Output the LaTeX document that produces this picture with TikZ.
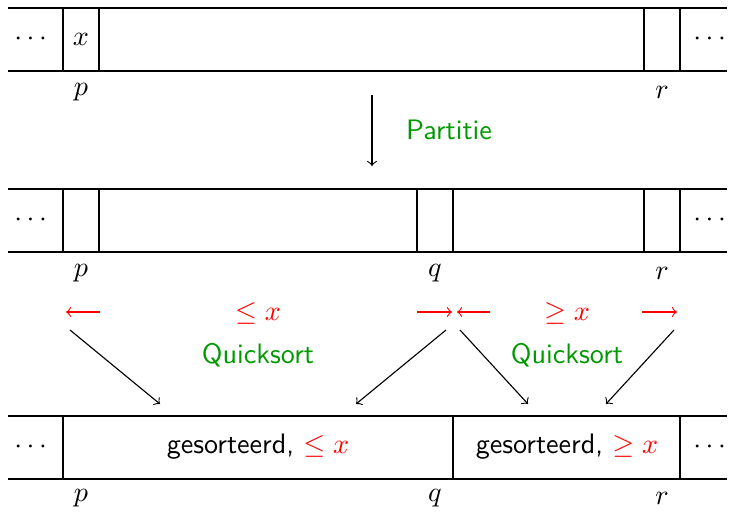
\documentclass[tikz,border=0pt]{standalone}
\usepackage{amsmath,amssymb}
\usepackage{tikz}

\begin{document}
\begin{tikzpicture}[x=0.0125cm,y=-0.0125cm,
    greentext/.style={text=green!60!black,font=\sffamily},
    redtext/.style={text=red,font=\sffamily},
    redarr/.style={->,draw=red}]
  \useasboundingbox (0,0) rectangle (735,512);
  % row 1
  \draw (8,8) -- (727,8);
  \draw (8,71) -- (727,71);
  \draw (63,8) rectangle (99,71);
  \draw (644,8) rectangle (680,71);
  \node (dl1) at (33,39) {$\cdots$};
  \node (x) at (81,39) {$x$};
  \node (dr1) at (712,39) {$\cdots$};
  \node (p1) at (81,92) {$p$};
  \node (r1) at (662,92) {$r$};
  % partitie
  \coordinate (a1) at (372,95);
  \coordinate (a2) at (372,166);
  \draw[->] (a1)--(a2);
  \node[greentext] (part) at (449,130) {Partitie};
  % row 2
  \draw (8,189) -- (727,189);
  \draw (8,252) -- (727,252);
  \draw (63,189) rectangle (99,252);
  \draw (417,189) rectangle (453,252);
  \draw (644,189) rectangle (680,252);
  \node (dl2) at (33,220) {$\cdots$};
  \node (dr2) at (712,220) {$\cdots$};
  \node (p2) at (81,273) {$p$};
  \node (q2) at (435,273) {$q$};
  \node (r2) at (662,273) {$r$};
  % red arrows
  \coordinate (l1) at (100,312); \coordinate (l2) at (66,312);
  \coordinate (m1) at (417,312); \coordinate (m2) at (452,312);
  \coordinate (m3) at (490,312); \coordinate (m4) at (457,312);
  \coordinate (n1) at (642,312); \coordinate (n2) at (677,312);
  \draw[redarr] (l1)--(l2);
  \draw[redarr] (m1)--(m2);
  \draw[redarr] (m3)--(m4);
  \draw[redarr] (n1)--(n2);
  \node[redtext] (le) at (258,313) {$\leq x$};
  \node[redtext] (ge) at (567,313) {$\geq x$};
  \node[greentext] (qs1) at (258,355) {Quicksort};
  \node[greentext] (qs2) at (567,355) {Quicksort};
  % black arrows
  \coordinate (s1) at (70,330);  \coordinate (t1) at (160,404);
  \coordinate (s2) at (446,330); \coordinate (t2) at (356,404);
  \coordinate (s3) at (460,330); \coordinate (t3) at (528,404);
  \coordinate (s4) at (674,330); \coordinate (t4) at (606,404);
  \draw[->] (s1)--(t1);
  \draw[->] (s2)--(t2);
  \draw[->] (s3)--(t3);
  \draw[->] (s4)--(t4);
  % row 3
  \draw (8,416) -- (727,416);
  \draw (8,479) -- (727,479);
  \draw (63,416) -- (63,479);
  \draw (453,416) -- (453,479);
  \draw (680,416) -- (680,479);
  \node (dl3) at (33,447) {$\cdots$};
  \node (dr3) at (712,447) {$\cdots$};
  \node[font=\sffamily] (g1) at (258,447) {gesorteerd, \textcolor{red}{$\leq x$}};
  \node[font=\sffamily] (g2) at (567,447) {gesorteerd, \textcolor{red}{$\geq x$}};
  \node (p3) at (81,498) {$p$};
  \node (q3) at (435,498) {$q$};
  \node (r3) at (662,498) {$r$};
\end{tikzpicture}
\end{document}
